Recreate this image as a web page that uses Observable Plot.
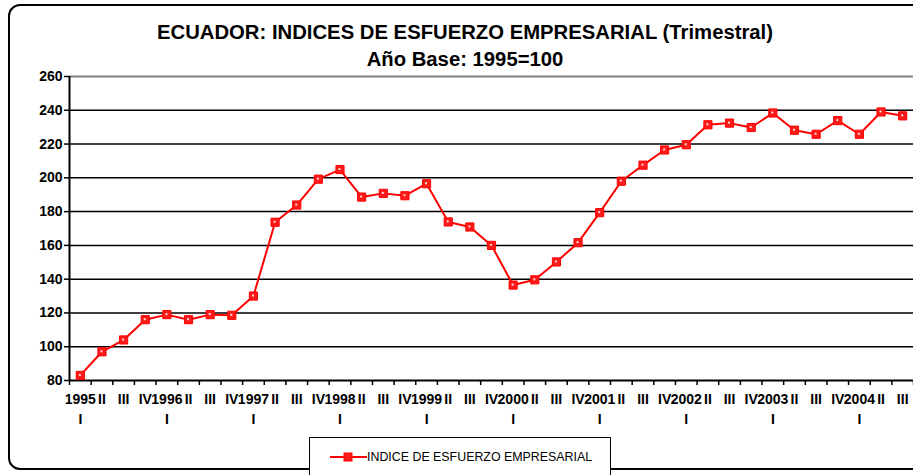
<!DOCTYPE html>
<html>
<head>
<meta charset="utf-8">
<script src="https://cdn.jsdelivr.net/npm/d3@7"></script>
<script src="https://cdn.jsdelivr.net/npm/@observablehq/plot@0.6"></script>
<style>
  html, body { margin: 0; padding: 0; background: #fff; }
  #wrap { position: relative; width: 913px; height: 475px; overflow: hidden; background: #fff;
          font-family: "Liberation Sans", Arial, sans-serif; color: #000; }
  #frame { position: absolute; left: 8px; top: 4px; width: 920px; height: 466px;
           border: 2px solid #000; border-radius: 12px; box-sizing: border-box; }
  #title { position: absolute; left: 8px; width: 914px; top: 19px; text-align: center;
           font-weight: bold; font-size: 20.3px; line-height: 27px; }
  #chart { position: absolute; left: 0; top: 0; }
  #legend { position: absolute; left: 309px; top: 437px; width: 302px; height: 45px;
            border: 1.5px solid #000; box-sizing: border-box; background: #fff; }
  #legend svg { position: absolute; left: 20px; top: 13px; }
  #legend span { position: absolute; left: 57px; top: 12px; font-size: 12.4px; line-height: 14px; white-space: nowrap; }
</style>
</head>
<body>
<div id="wrap">
  <div id="frame"></div>
  <div id="title"><div id="t1"></div><div id="t2"></div></div>
  <div id="chart"></div>
  <div id="legend"></div>
</div>
<script>
const titleText = "ECUADOR: INDICES DE ESFUERZO EMPRESARIAL (Trimestral)";
const subtitleText = "Año Base: 1995=100";
const seriesName = "INDICE DE ESFUERZO EMPRESARIAL";

const years = [1995, 1996, 1997, 1998, 1999, 2000, 2001, 2002, 2003, 2004];
const quarterLabels = ["I", "II", "III", "IV"];
const values = [
  83, 97, 104, 116,
  119, 116, 119, 118.6,
  130, 173.7, 183.9, 199.2,
  204.9, 188.6, 190.8, 189.4,
  196.5, 173.9, 170.9, 160,
  136.5, 139.6, 150.2, 161.6,
  179.4, 198, 207.5, 216.5,
  219.6, 231.4, 232.4, 229.8,
  238.4, 228.2, 225.8, 233.9,
  225.8, 239, 236.7
];
const yTicks = [80, 100, 120, 140, 160, 180, 200, 220, 240, 260];

const rows = values.map((v, i) => {
  const year = years[Math.floor(i / 4)];
  const q = quarterLabels[i % 4];
  return { i, x: i + 0.5, v, line1: q === "I" ? String(year) : q, line2: q === "I" ? "I" : "" };
});
const boundaries = d3.range(0, values.length + 1);

document.getElementById("t1").textContent = titleText;
document.getElementById("t2").textContent = subtitleText;

const chart = Plot.plot({
  width: 913,
  height: 475,
  marginTop: 76,
  marginBottom: 95,
  marginLeft: 69,
  marginRight: 0,
  style: { fontFamily: '"Liberation Sans", Arial, sans-serif', color: "#000", background: "transparent" },
  x: { type: "linear", domain: [0, values.length], axis: null },
  y: { domain: [80, 260], axis: null },
  marks: [
    Plot.ruleY(yTicks.filter(d => d > 80 && d < 260), { stroke: "#000", strokeWidth: 1.5 }),
    Plot.ruleY([260], { stroke: "#808080", strokeWidth: 2 }),
    Plot.ruleY([80], { stroke: "#000", strokeWidth: 2 }),
    Plot.ruleX([0], { stroke: "#000", strokeWidth: 2 }),
    Plot.axisY({ ticks: yTicks, tickSize: 5, tickPadding: 2, fontSize: 14, fontWeight: "bold", strokeWidth: 1.5, label: null }),
    Plot.axisX({ ticks: boundaries, tickSize: 5, tickFormat: () => "", strokeWidth: 1.5, label: null }),
    Plot.text(rows, { x: "x", text: "line1", frameAnchor: "bottom", dy: 23, fontSize: 14, fontWeight: "bold" }),
    Plot.text(rows, { x: "x", text: "line2", frameAnchor: "bottom", dy: 43, fontSize: 14, fontWeight: "bold" }),
    Plot.line(rows, { x: "x", y: "v", stroke: "#ff0000", strokeWidth: 2 }),
    Plot.dot(rows, { x: "x", y: "v", symbol: "square", r: 4.6, fill: "#ff1a1a", stroke: "#ff0000", strokeWidth: 1 }),
    Plot.dot(rows, { x: "x", y: "v", symbol: "square", r: 1.1, fill: "#ffe0e0", dx: -0.5, dy: -0.5 })
  ]
});
document.getElementById("chart").appendChild(chart);

const legend = document.getElementById("legend");
legend.innerHTML = `<svg width="37" height="12" viewBox="0 0 37 12">
  <line x1="0" y1="6" x2="37" y2="6" stroke="#ff0000" stroke-width="2"></line>
  <rect x="14" y="2" width="8" height="8" fill="#ff1a1a" stroke="#ff0000"></rect>
</svg><span></span>`;
legend.querySelector("span").textContent = seriesName;
</script>
</body>
</html>
